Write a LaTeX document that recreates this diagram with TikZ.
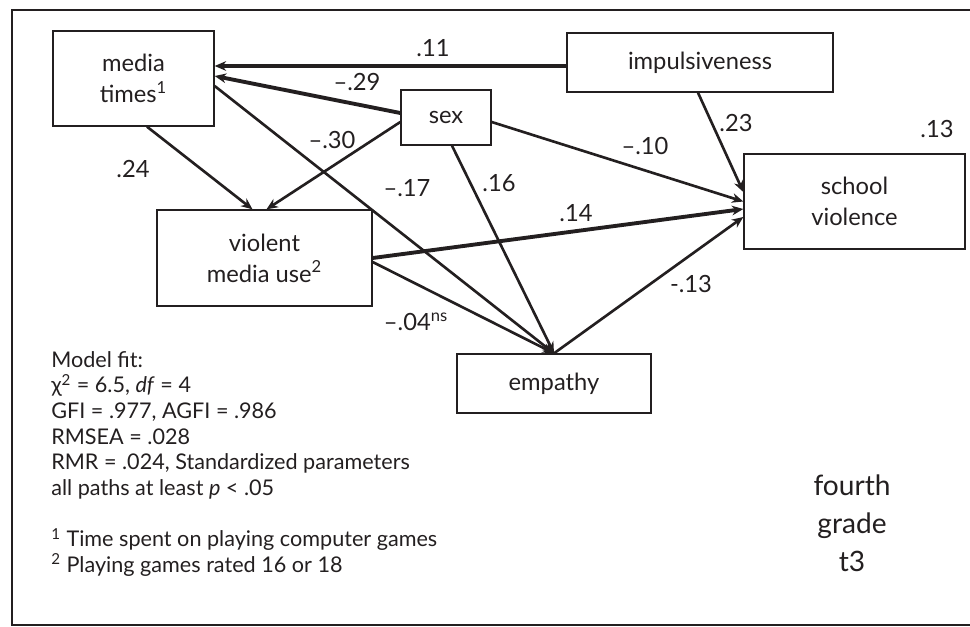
\documentclass[tikz,border=0pt]{standalone}
\usepackage{fontspec}
\setmainfont{Lato}
\usepackage{tikz}
\usetikzlibrary{calc,arrows.meta,positioning}
\usepackage{xcolor}
\definecolor{ink}{HTML}{231F20}

\begin{document}
\begin{tikzpicture}[x=0.02cm,y=-0.02cm,
	var/.style={draw=ink,line width=0.8pt,inner sep=0pt,align=center,text=ink,font=\fontsize{13.5}{17.6}\selectfont},
	pathline/.style={draw=ink,line width=1.5pt,-{Stealth[length=6.5pt,width=5.5pt]}},
	strongline/.style={pathline,line width=2.2pt},
	coef/.style={inner sep=0pt,text=ink,font=\fontsize{13.5}{16}\selectfont}]
			\useasboundingbox (0,0) rectangle (970,626);
			\draw[ink,line width=1.1pt] (970,10) -- (12,10) -- (12,625) -- (970,625);

			\node[var,minimum width=3.22cm,minimum height=1.9cm] (mt) at (133.5,78.5) {media\\times\textsuperscript{1}};
			\node[var,minimum width=1.8cm,minimum height=1.1cm] (sex) at (446,117.5) {sex};
			\node[var,minimum width=5.32cm,minimum height=1.18cm] (imp) at (700,62.5) {impulsiveness};
			\node[var,minimum width=4.42cm,minimum height=1.9cm] (sv) at (854.5,201.5) {school\\violence};
			\node[var,minimum width=4.3cm,minimum height=1.92cm] (vm) at (264.5,258) {violent\\media use\textsuperscript{2}};
			\node[var,minimum width=3.88cm,minimum height=1.18cm] (emp) at (554,383.5) {empathy};

			\draw[strongline] ($(imp.west)+(0,3.5)$) -- ($(mt.east)+(0,-12.5)$);
			\draw[strongline] ($(sex.west)+(0,-4.5)$) -- ($(mt.east)+(0,-2.5)$);
			\draw[pathline] ($(sex.west)+(0,4.5)$) -- ($(vm.north)+(2,0)$);
			\draw[pathline] ($(mt.south)+(13.5,0)$) -- ($(vm.north)+(-12,0)$);
			\draw[pathline] ($(mt.east)+(0,7.5)$) -- (emp.north);
			\draw[pathline] ($(sex.south)+(6,0)$) -- (emp.north);
			\draw[pathline] ($(vm.east)+(0,4)$) -- (emp.north);
			\draw[pathline] ($(sex.east)+(0,4.5)$) -- (sv.west);
			\draw[strongline] (vm.east) -- ($(sv.west)+(0,7.5)$);
			\draw[pathline] (emp.north) -- ($(sv.west)+(0,15.5)$);
			\draw[pathline] ($(imp.south)+(-2,0)$) -- ($(sv.west)+(0,-9.5)$);

			\node[coef] (c11) at (433,48) {.11};
			\node[coef] (c29) at (357,82) {--.29};
			\node[coef] (c30) at (332,140) {--.30};
			\node[coef] (c24) at (133,169) {.24};
			\node[coef] (c17) at (407,188) {--.17};
			\node[coef] (c16) at (499,183) {.16};
			\node[coef] (c14) at (576,213) {.14};
			\node[coef] (c10) at (645,146) {--.10};
			\node[coef] (c23) at (736,123) {.23};
			\node[coef] (r13) at (937,129) {.13};
			\node[coef] (c13) at (691,284) {-.13};
			\node[coef] (c04) at (416,322) {--.04\textsuperscript{ns}};

			\node[anchor=north west,align=left,inner sep=0pt,text=ink,font=\fontsize{12.3}{14.6}\selectfont] (fit) at (51,351)
			{Model fit:\\
			χ\textsuperscript{2} = 6.5, \textit{df} = 4\\
			GFI = .977, AGFI = .986\\
			RMSEA = .028\\
			RMR = .024, Standardized parameters\\
			all paths at least \textit{p} < .05\\[14.6pt]
			\textsuperscript{1} Time spent on playing computer games\\
			\textsuperscript{2} Playing games rated 16 or 18};

			\node[align=center,inner sep=0pt,text=ink,font=\fontsize{16}{21.5}\selectfont] (grade) at (852,523) {fourth\\grade\\t3};
\end{tikzpicture}
\end{document}
